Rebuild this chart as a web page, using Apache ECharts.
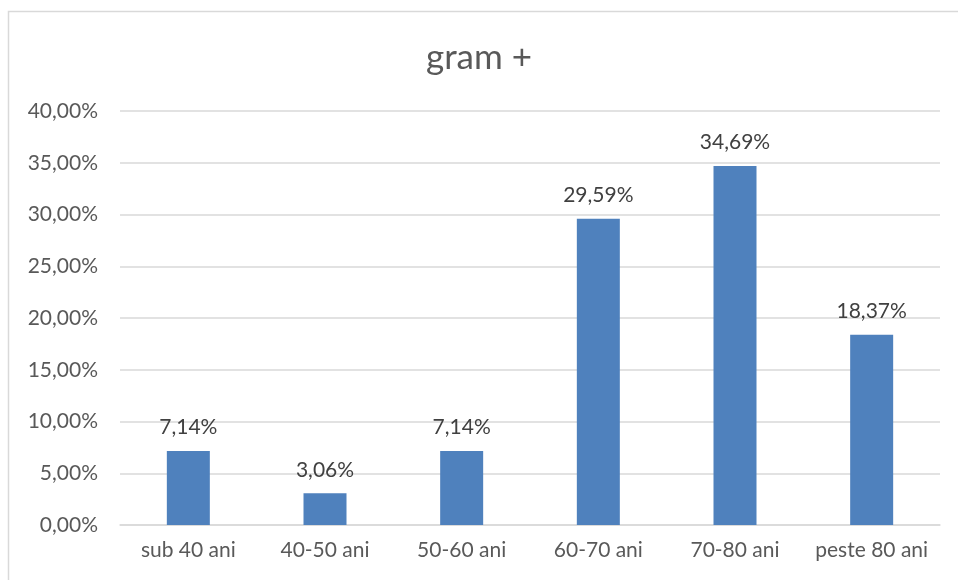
<!DOCTYPE html>
<html style="height: 100%">
<head>
    <meta charset="utf-8">
</head>
<body style="height: 100%; margin: 0; background: #fff">
<div id="chart_container" style="height: 580px; width: 958px"></div>
<script src="https://cdn.jsdelivr.net/npm/echarts@6/dist/echarts.min.js"></script>
<script type="text/javascript">
    var categories = ['sub 40 ani', '40-50 ani', '50-60 ani', '60-70 ani', '70-80 ani', 'peste 80 ani'];
    var values = [7.14, 3.06, 7.14, 29.59, 34.69, 18.37];
    var chartTitle = 'gram +';

    function pct(v) {
        return v.toFixed(2).replace('.', ',') + '%';
    }

    var chart = echarts.init(document.getElementById('chart_container'));
    var textColor = '#595959';
    var fontName = 'Lato';

    var option = {
        backgroundColor: '#fff',
        animation: false,
        // outer chart border
        graphic: [{
            type: 'rect',
            shape: { x: 8.5, y: 11.5, width: 1000, height: 1000 },
            style: { fill: 'none', stroke: '#d9d9d9', lineWidth: 1.5 }
        }],
        title: {
            text: chartTitle,
            left: 'center',
            top: 35,
            textStyle: { color: textColor, fontSize: 35, fontWeight: 'normal', fontFamily: fontName }
        },
        grid: { left: 120, right: 18, top: 111, bottom: 55, containLabel: false },
        xAxis: {
            type: 'category',
            data: categories,
            axisLine: { lineStyle: { color: '#d9d9d9', width: 1.5 } },
            axisTick: { show: false },
            axisLabel: {
                color: textColor, fontSize: 21, fontFamily: fontName, margin: 15,
                interval: 0, hideOverlap: false
            }
        },
        yAxis: {
            type: 'value',
            min: 0,
            max: 40,
            interval: 5,
            axisLine: { show: false },
            axisTick: { show: false },
            splitLine: { lineStyle: { color: '#d9d9d9', width: 1.5 } },
            axisLabel: {
                color: textColor, fontSize: 21, fontFamily: fontName, margin: 22,
                formatter: function (v) { return pct(v); }
            }
        },
        series: [{
            type: 'bar',
            data: values,
            barWidth: 43,
            itemStyle: { color: '#4f81bd' },
            label: {
                show: true,
                position: 'top',
                distance: 13,
                color: '#404040',
                fontSize: 21,
                fontFamily: fontName,
                formatter: function (p) { return pct(p.value); }
            }
        }]
    };

    chart.setOption(option);
</script>
</body>
</html>
